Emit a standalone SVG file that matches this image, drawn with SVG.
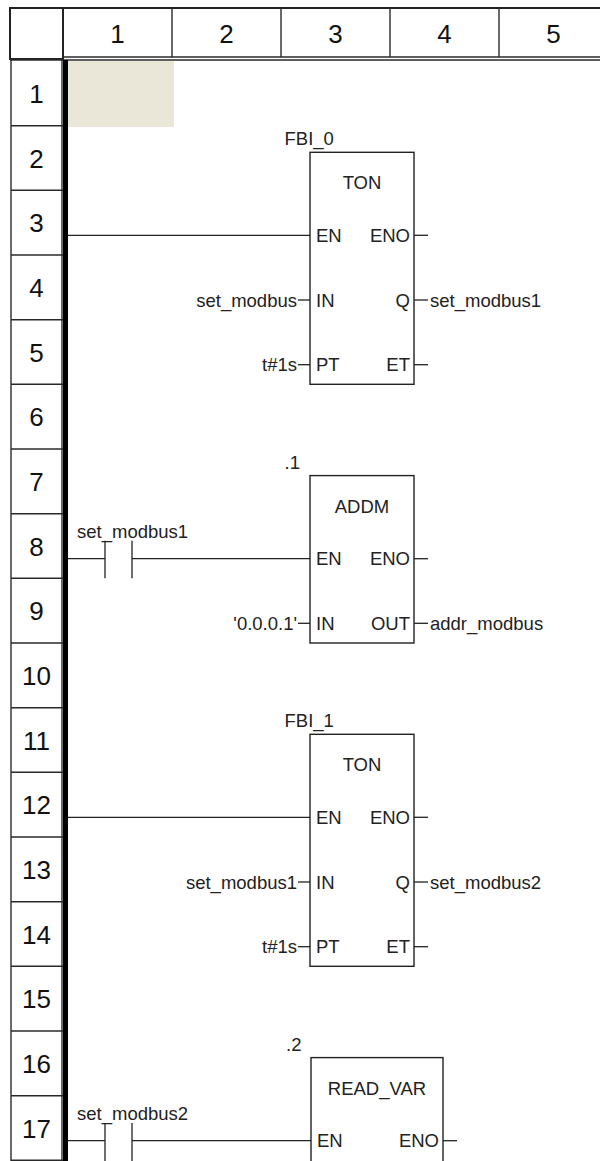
<svg xmlns="http://www.w3.org/2000/svg" width="600" height="1161" viewBox="0 0 600 1161">
<style>
.g{stroke:#2a2a2a;stroke-width:1.4;fill:none}
.gd{stroke:#222;stroke-width:2;fill:none}
.w{stroke:#222;stroke-width:1.3;fill:none}
.box{stroke:#222;stroke-width:1.4;fill:#fff}
.n{font-family:"Liberation Sans",Arial,sans-serif;font-size:26px;fill:#111;text-anchor:middle}
.t{font-family:"Liberation Sans",Arial,sans-serif;font-size:18.5px;fill:#222}
.m{text-anchor:middle}
.e{text-anchor:end}
</style>
<rect x="0" y="0" width="600" height="1161" fill="#fff"/>
<g id="grid">
<rect x="68" y="61" width="106" height="66" fill="#EBE7D8"/>
<rect x="10" y="8" width="53" height="51" class="gd"/>
<line x1="63" y1="8" x2="600" y2="8" class="gd"/>
<line x1="63" y1="57" x2="600" y2="57" class="g"/>
<line x1="10" y1="60" x2="600" y2="60" class="g"/>
<line x1="172" y1="8" x2="172" y2="57" class="g"/>
<line x1="281" y1="8" x2="281" y2="57" class="g"/>
<line x1="390" y1="8" x2="390" y2="57" class="g"/>
<line x1="499" y1="8" x2="499" y2="57" class="g"/>
<text x="117.5" y="43" class="n">1</text>
<text x="226.5" y="43" class="n">2</text>
<text x="335.5" y="43" class="n">3</text>
<text x="444.5" y="43" class="n">4</text>
<text x="553.5" y="43" class="n">5</text>
<line x1="11" y1="60" x2="11" y2="1161" class="g"/>
<line x1="62" y1="60" x2="62" y2="1161" class="g"/>
<g class="g">
<line x1="11" y1="125.7" x2="63" y2="125.7"/>
<line x1="11" y1="190.3" x2="63" y2="190.3"/>
<line x1="11" y1="255" x2="63" y2="255"/>
<line x1="11" y1="319.7" x2="63" y2="319.7"/>
<line x1="11" y1="384.3" x2="63" y2="384.3"/>
<line x1="11" y1="449" x2="63" y2="449"/>
<line x1="11" y1="513.7" x2="63" y2="513.7"/>
<line x1="11" y1="578.3" x2="63" y2="578.3"/>
<line x1="11" y1="643" x2="63" y2="643"/>
<line x1="11" y1="707.7" x2="63" y2="707.7"/>
<line x1="11" y1="772.3" x2="63" y2="772.3"/>
<line x1="11" y1="837" x2="63" y2="837"/>
<line x1="11" y1="901.7" x2="63" y2="901.7"/>
<line x1="11" y1="966.3" x2="63" y2="966.3"/>
<line x1="11" y1="1031" x2="63" y2="1031"/>
<line x1="11" y1="1095.7" x2="63" y2="1095.7"/>
<line x1="11" y1="1160.3" x2="63" y2="1160.3"/>
</g>
<text x="36.5" y="103" class="n">1</text>
<text x="36.5" y="167.7" class="n">2</text>
<text x="36.5" y="232.3" class="n">3</text>
<text x="36.5" y="297" class="n">4</text>
<text x="36.5" y="361.7" class="n">5</text>
<text x="36.5" y="426.3" class="n">6</text>
<text x="36.5" y="491" class="n">7</text>
<text x="36.5" y="555.7" class="n">8</text>
<text x="36.5" y="620.3" class="n">9</text>
<text x="36.5" y="685" class="n">10</text>
<text x="36.5" y="749.7" class="n">11</text>
<text x="36.5" y="814.3" class="n">12</text>
<text x="36.5" y="879" class="n">13</text>
<text x="36.5" y="943.7" class="n">14</text>
<text x="36.5" y="1008.3" class="n">15</text>
<text x="36.5" y="1073" class="n">16</text>
<text x="36.5" y="1137.7" class="n">17</text>
<rect x="63" y="60" width="5" height="1101" fill="#000"/>
</g>
<g id="connectors" class="w">
<line x1="68" y1="235.3" x2="310" y2="235.3"/>
<line x1="298" y1="300" x2="310" y2="300"/>
<line x1="298" y1="364.7" x2="310" y2="364.7"/>
<line x1="414" y1="235.3" x2="428" y2="235.3"/>
<line x1="414" y1="300" x2="428" y2="300"/>
<line x1="414" y1="364.7" x2="428" y2="364.7"/>
<line x1="68" y1="558.7" x2="105" y2="558.7"/>
<line x1="132" y1="558.7" x2="310" y2="558.7"/>
<line x1="298" y1="623.3" x2="310" y2="623.3"/>
<line x1="414" y1="558.7" x2="428" y2="558.7"/>
<line x1="414" y1="623.3" x2="428" y2="623.3"/>
<line x1="68" y1="817.3" x2="310" y2="817.3"/>
<line x1="298" y1="882" x2="310" y2="882"/>
<line x1="298" y1="946.7" x2="310" y2="946.7"/>
<line x1="414" y1="817.3" x2="428" y2="817.3"/>
<line x1="414" y1="882" x2="428" y2="882"/>
<line x1="414" y1="946.7" x2="428" y2="946.7"/>
<line x1="68" y1="1140.7" x2="105" y2="1140.7"/>
<line x1="132" y1="1140.7" x2="311" y2="1140.7"/>
<line x1="443" y1="1140.7" x2="457" y2="1140.7"/>
</g>
<g id="contact1">
<line x1="105" y1="540.7" x2="105" y2="578.3" class="w"/>
<line x1="132" y1="540.7" x2="132" y2="578.3" class="w"/>
<text x="77" y="537.5" class="t">set_modbus1</text>
</g>
<g id="contact2">
<line x1="105" y1="1123" x2="105" y2="1161" class="w"/>
<line x1="132" y1="1123" x2="132" y2="1161" class="w"/>
<text x="77" y="1120" class="t">set_modbus2</text>
</g>
<g id="fbi0">
<rect x="310" y="152.3" width="104" height="232" class="box"/>
<text x="284.5" y="145" class="t">FBI_0</text>
<text x="362" y="189.3" class="t m">TON</text>
<text x="316" y="242" class="t">EN</text>
<text x="410" y="242" class="t e">ENO</text>
<text x="316" y="306.7" class="t">IN</text>
<text x="410" y="306.7" class="t e">Q</text>
<text x="316" y="371.4" class="t">PT</text>
<text x="410" y="371.4" class="t e">ET</text>
<text x="297" y="306.7" class="t e">set_modbus</text>
<text x="297" y="371.4" class="t e">t#1s</text>
<text x="430" y="306.7" class="t">set_modbus1</text>
</g>
<g id="addm1">
<rect x="310" y="475.6" width="104" height="167.4" class="box"/>
<text x="284.5" y="468.6" class="t">.1</text>
<text x="362" y="512.6" class="t m">ADDM</text>
<text x="316" y="565.4" class="t">EN</text>
<text x="410" y="565.4" class="t e">ENO</text>
<text x="316" y="630" class="t">IN</text>
<text x="410" y="630" class="t e">OUT</text>
<text x="297" y="630" class="t e">'0.0.0.1'</text>
<text x="430" y="630" class="t">addr_modbus</text>
</g>
<g id="fbi1">
<rect x="310" y="734.3" width="104" height="232" class="box"/>
<text x="284.5" y="727.3" class="t">FBI_1</text>
<text x="362" y="771.3" class="t m">TON</text>
<text x="316" y="824" class="t">EN</text>
<text x="410" y="824" class="t e">ENO</text>
<text x="316" y="888.7" class="t">IN</text>
<text x="410" y="888.7" class="t e">Q</text>
<text x="316" y="953.4" class="t">PT</text>
<text x="410" y="953.4" class="t e">ET</text>
<text x="297" y="888.7" class="t e">set_modbus1</text>
<text x="297" y="953.4" class="t e">t#1s</text>
<text x="430" y="888.7" class="t">set_modbus2</text>
</g>
<g id="readvar2">
<rect x="311" y="1057.6" width="132" height="120" class="box"/>
<text x="286" y="1050.6" class="t">.2</text>
<text x="377" y="1094.6" class="t m">READ_VAR</text>
<text x="317" y="1147.4" class="t">EN</text>
<text x="439" y="1147.4" class="t e">ENO</text>
</g>
</svg>
